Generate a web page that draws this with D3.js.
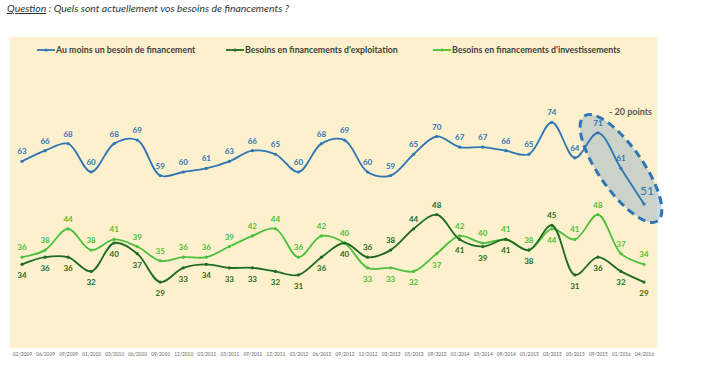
<!DOCTYPE html>
<html>
<head>
<meta charset="utf-8">
<script src="https://cdn.jsdelivr.net/npm/d3@7"></script>
<style>
    body { margin: 0; background: #fff; }
    svg { display: block; font-family: Lato, "Open Sans", sans-serif; }
</style>
</head>
<body>
<script>
"use strict";

// Dates (x axis)
const dates = ["02/2009", "06/2009", "09/2009", "01/2010", "03/2010", "06/2010", "09/2010", "12/2010",
    "03/2011", "05/2011", "09/2011", "12/2011", "03/2012", "06/2012", "09/2012", "12/2012",
    "03/2013", "05/2013", "09/2013", "01/2014", "05/2014", "09/2014", "01/2015", "03/2015",
    "05/2015", "09/2015", "01/2016", "04/2016"]

// Series values
const auMoinsUn = [63, 66, 68, 60, 68, 69, 59, 60, 61, 63, 66, 65, 60, 68, 69, 60,
    59, 65, 70, 67, 67, 66, 65, 74, 64, 71, 61, 51]
const exploitation = [34, 36, 36, 32, 40, 37, 29, 33, 34, 33, 33, 32, 31, 36, 40, 36,
    38, 44, 48, 41, 39, 41, 38, 45, 31, 36, 32, 29]
const investissements = [36, 38, 44, 38, 41, 39, 35, 36, 36, 39, 42, 44, 36, 42, 40, 33,
    33, 32, 37, 42, 40, 41, 38, 44, 41, 48, 37, 34]

// label side: a = above, b = below
const blueSide = "aaaaaaaaaaaaaaaaaaaaaaaaaaaa"
const exploitationSide = "bbbbbbbbbbbbbbb" + "aaaa" + "bbbb" + "a" + "bbbb"
const investSide = "aaaaaaaaaaaaaaa" + "bbbb" + "aaaa" + "b" + "aaaa"

const seriesNames = ["Au moins un besoin de financement",
    "Besoins en financements d'exploitation",
    "Besoins en financements d'investissements"]

const colors = {
    blue: "#2e75b6",
    dark: "#1f6b21",
    light: "#4cbf3c"
}

const measurements = {
    width: 727,
    height: 372
}

const svg = d3.select("body").append("svg")
    .attr("width", measurements.width)
    .attr("height", measurements.height)

// Question title
const title = svg.append("text")
    .attr("x", 7)
    .attr("y", 12)
    .style("font-size", "10.4px")
    .style("font-style", "italic")
    .style("fill", "#333")
title.append("tspan").style("text-decoration", "underline").text("Question")
title.append("tspan").text(" : Quels sont actuellement vos besoins de financements ?")

// Panel background
svg.append("rect")
    .attr("x", 10)
    .attr("y", 37)
    .attr("width", 647)
    .attr("height", 311)
    .attr("fill", "#fdf0cd")

const scaleX = d3.scalePoint()
    .domain(dates)
    .range([22, 644])

const scaleY = d3.scaleLinear()
    .domain([0, 100])
    .range([385, 30])

// x axis
const xAxis = svg.append("g")
    .attr("transform", "translate(0, 350)")
    .call(d3.axisBottom(scaleX).tickSize(0).tickPadding(3))
xAxis.select(".domain").remove()
xAxis.selectAll("text")
    .style("font-size", "4.8px")
    .style("font-family", "Lato, sans-serif")
    .style("fill", "#666")

// Highlight ellipse (last three points of the blue series)
const cx = scaleX(dates[26])
const cy = (scaleY(auMoinsUn[25]) + scaleY(auMoinsUn[27])) / 2
svg.append("ellipse")
    .attr("cx", cx)
    .attr("cy", cy)
    .attr("rx", 64)
    .attr("ry", 22)
    .attr("transform", "rotate(55," + cx + "," + cy + ")")
    .attr("fill", "rgba(120,160,195,0.38)")
    .attr("stroke", colors.blue)
    .attr("stroke-width", 3)
    .attr("stroke-dasharray", "8,5")

svg.append("text")
    .attr("x", 609)
    .attr("y", 115)
    .style("font-size", "9px")
    .style("font-weight", "bold")
    .style("fill", "#595959")
    .text("- 20 points")

const line = d3.line()
    .x((d, i) => scaleX(dates[i]))
    .y(d => scaleY(d))
    .curve(d3.curveCatmullRom.alpha(0.5))

function drawSeries(values, color, sides) {
    svg.append("path")
        .datum(values)
        .attr("d", line)
        .attr("fill", "none")
        .attr("stroke", color)
        .attr("stroke-width", 1.8)

    svg.selectAll(null)
        .data(values)
        .enter()
        .append("circle")
        .attr("cx", (d, i) => scaleX(dates[i]))
        .attr("cy", d => scaleY(d))
        .attr("r", 1.6)
        .attr("fill", color)

    return svg.selectAll(null)
        .data(values)
        .enter()
        .append("text")
        .attr("x", (d, i) => scaleX(dates[i]))
        .attr("y", (d, i) => scaleY(d) + (sides[i] === "b" ? 14 : -7))
        .attr("text-anchor", "middle")
        .style("font-size", "8px")
        .style("font-weight", "bold")
        .style("fill", color)
        .text(d => d)
}

drawSeries(investissements, colors.light, investSide)
drawSeries(exploitation, colors.dark, exploitationSide)
const blueLabels = drawSeries(auMoinsUn, colors.blue, blueSide)

// Make the last blue label larger
blueLabels.filter((d, i) => i === auMoinsUn.length - 1)
    .style("font-size", "12px")
    .style("font-weight", "normal")
    .attr("x", scaleX(dates[27]) + 3)
    .attr("y", scaleY(51) - 9)

// Legend
const legendX = [37, 226, 433]
const legendColors = [colors.blue, colors.dark, colors.light]
seriesNames.forEach((name, i) => {
    const g = svg.append("g").attr("transform", "translate(" + legendX[i] + ",50)")
    g.append("line")
        .attr("x1", 0).attr("x2", 18)
        .attr("stroke", legendColors[i])
        .attr("stroke-width", 1.8)
    g.append("circle")
        .attr("cx", 9).attr("r", 1.6)
        .attr("fill", legendColors[i])
    g.append("text")
        .attr("x", 19)
        .attr("y", 3)
        .style("font-size", "8.8px")
        .style("font-weight", "bold")
        .style("fill", "#404040")
        .text(name)
})
</script>
</body>
</html>
